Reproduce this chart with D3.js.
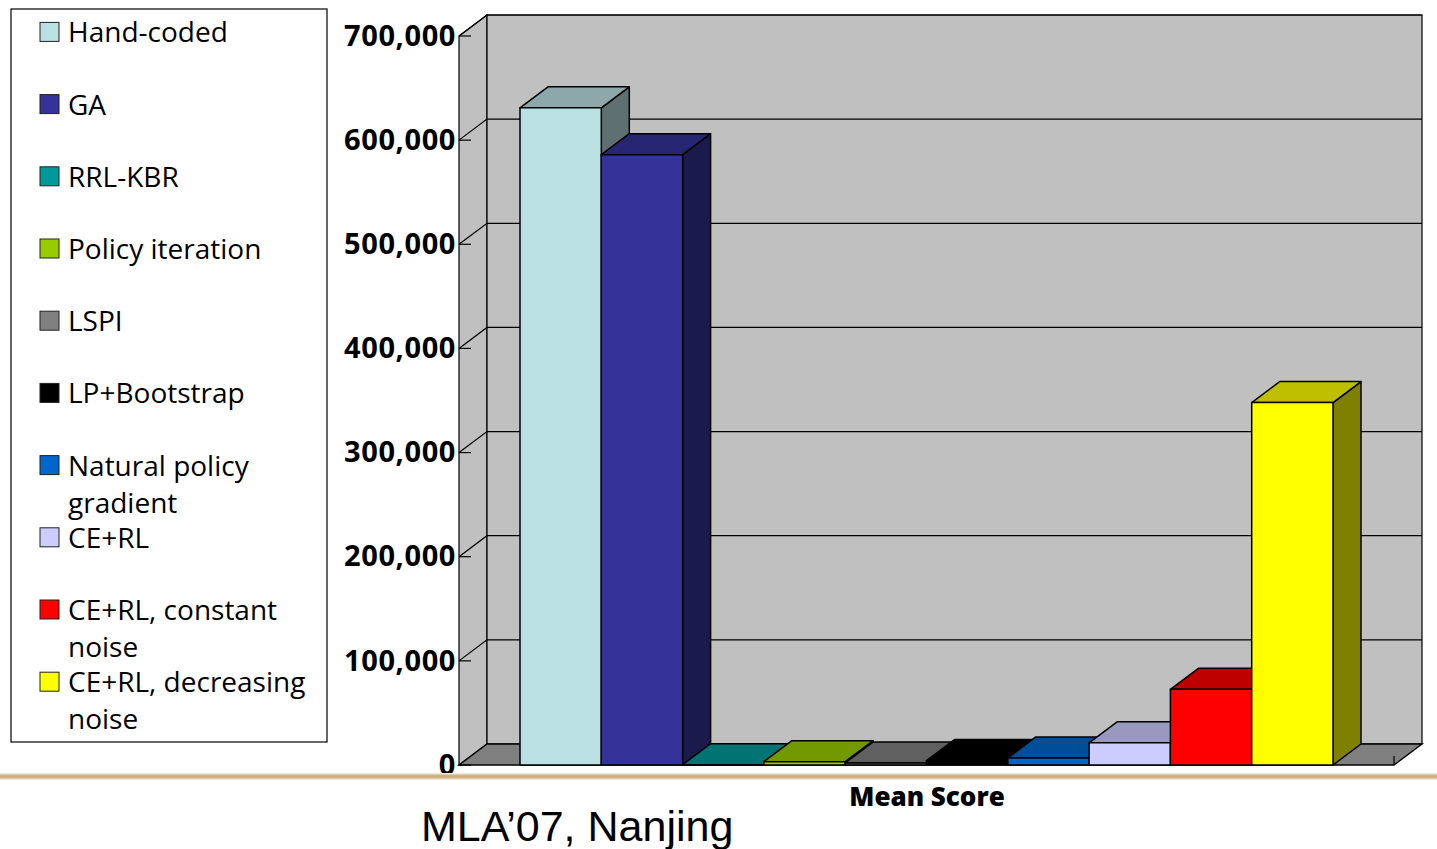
<!DOCTYPE html>
<html>
<head>
<meta charset="utf-8">
<script src="https://cdn.jsdelivr.net/npm/d3@7"></script>
<style>
  html, body { margin: 0; padding: 0; background: #fff; }
  svg { display: block; }
  text { font-family: "Comic Sans MS", "Open Sans", sans-serif; fill: #000; }
</style>
</head>
<body>
<div id="chart"></div>
<script>
const categories = ["Hand-coded", "GA", "RRL-KBR", "Policy iteration", "LSPI", "LP+Bootstrap",
                    "Natural policy gradient", "CE+RL", "CE+RL, constant noise", "CE+RL, decreasing noise"];
const meanScores = [631000, 586000, 300, 3200, 2000, 4300, 6800, 21300, 72700, 348000];
const barColors = ["#bbe0e3", "#333399", "#009999", "#99cc00", "#808080", "#000000",
                   "#0066cc", "#ccccff", "#ff0000", "#ffff00"];
const yTicks = [0, 100000, 200000, 300000, 400000, 500000, 600000, 700000];
const legendLines = [["Hand-coded"], ["GA"], ["RRL-KBR"], ["Policy iteration"], ["LSPI"], ["LP+Bootstrap"],
                     ["Natural policy", "gradient"], ["CE+RL"], ["CE+RL, constant", "noise"], ["CE+RL, decreasing", "noise"]];

const width = 1437, height = 849;
const plot = {left: 459, right: 1394, top: 36, bottom: 765};
const depth = {x: 28, y: 21};

const svg = d3.select("#chart").append("svg")
    .attr("width", width)
    .attr("height", height);

const y = d3.scaleLinear().domain([0, 700000]).range([plot.bottom, plot.top]);
const x = d3.scaleBand().domain(categories).range([520, 1333]);

const poly = pts => pts.map(p => p.join(",")).join(" ");
const shade = (c, k) => {
    const r = d3.rgb(c);
    return d3.rgb(r.r * k, r.g * k, r.b * k).formatHex();
};

// Walls and floor of the 3D box
svg.append("polygon")
    .attr("points", poly([[plot.left, plot.bottom], [plot.left + depth.x, plot.bottom - depth.y],
                          [plot.left + depth.x, plot.top - depth.y], [plot.left, plot.top]]))
    .attr("fill", "#c0c0c0").attr("stroke", "#000").attr("stroke-width", 1.2);
svg.append("rect")
    .attr("x", plot.left + depth.x).attr("y", plot.top - depth.y)
    .attr("width", plot.right - plot.left)
    .attr("height", plot.bottom - plot.top)
    .attr("fill", "#c0c0c0").attr("stroke", "#000").attr("stroke-width", 1.2);
svg.append("polygon")
    .attr("points", poly([[plot.left, plot.bottom], [plot.left + depth.x, plot.bottom - depth.y],
                          [plot.right + depth.x, plot.bottom - depth.y], [plot.right, plot.bottom]]))
    .attr("fill", "#808080").attr("stroke", "#000").attr("stroke-width", 1.4);

// Gridlines run along the left wall and across the back wall
const grid = svg.append("g").attr("fill", "none").attr("stroke", "#000").attr("stroke-width", 1.2);
grid.selectAll("path")
    .data(yTicks.slice(1))
    .enter().append("path")
    .attr("d", d => `M${plot.left},${y(d)}L${plot.left + depth.x},${y(d) - depth.y}H${plot.right + depth.x}`);
grid.selectAll("line")
    .data(yTicks)
    .enter().append("line")
    .attr("x1", plot.left).attr("x2", plot.left + 12)
    .attr("y1", d => y(d)).attr("y2", d => y(d));
grid.append("line")
    .attr("x1", plot.right).attr("x2", plot.right)
    .attr("y1", plot.bottom - 9).attr("y2", plot.bottom);

// Bars, drawn left to right so each one hides the side of the previous
const bar = svg.selectAll(".bar")
    .data(categories.map((name, i) => ({name, value: meanScores[i], color: barColors[i]})))
    .enter().append("g")
    .attr("class", "bar")
    .attr("stroke", "#000")
    .attr("stroke-width", 1.5)
    .attr("stroke-linejoin", "round");

bar.append("polygon")
    .attr("points", d => {
        const x1 = x(d.name) + x.bandwidth(), t = y(d.value);
        return poly([[x1, plot.bottom], [x1 + depth.x, plot.bottom - depth.y],
                     [x1 + depth.x, t - depth.y], [x1, t]]);
    })
    .attr("fill", d => shade(d.color, 0.5));
bar.append("polygon")
    .attr("points", d => {
        const x0 = x(d.name), x1 = x0 + x.bandwidth(), t = y(d.value);
        return poly([[x0, t], [x0 + depth.x, t - depth.y], [x1 + depth.x, t - depth.y], [x1, t]]);
    })
    .attr("fill", d => shade(d.color, 0.75));
bar.append("rect")
    .attr("x", d => x(d.name))
    .attr("y", d => y(d.value))
    .attr("width", x.bandwidth())
    .attr("height", d => plot.bottom - y(d.value))
    .attr("fill", d => d.color);

// Value axis labels
const yAxis = d3.axisLeft(y)
    .tickValues(yTicks)
    .tickFormat(d3.format(","))
    .tickSize(0)
    .tickPadding(3);
svg.append("g")
    .attr("transform", `translate(${plot.left},0)`)
    .call(yAxis)
    .call(g => g.select(".domain").remove())
    .selectAll("text")
    .style("font-family", '"Comic Sans MS", "Open Sans", sans-serif')
    .style("font-size", "29px")
    .style("font-weight", 700)
    .style("letter-spacing", "0.6px")
    .attr("fill", "#000");

svg.append("text")
    .attr("x", 927).attr("y", 806)
    .attr("text-anchor", "middle")
    .style("font-size", "26px")
    .style("font-weight", 800)
    .text("Mean Score");

// Legend
svg.append("rect")
    .attr("x", 11).attr("y", 9).attr("width", 316).attr("height", 733)
    .attr("fill", "#fff").attr("stroke", "#000").attr("stroke-width", 1.2);
const legend = svg.selectAll(".legend")
    .data(legendLines)
    .enter().append("g")
    .attr("class", "legend")
    .attr("transform", (d, i) => `translate(0,${32.4 + i * 72.2})`);
legend.append("rect")
    .attr("x", 40).attr("y", -10).attr("width", 19).attr("height", 19)
    .attr("fill", (d, i) => barColors[i])
    .attr("stroke", "#222").attr("stroke-width", 1);
legend.append("text")
    .attr("x", 68).attr("y", 10)
    .style("font-size", "28px")
    .selectAll("tspan")
    .data(d => d)
    .enter().append("tspan")
    .attr("x", 68)
    .attr("dy", (d, i) => i ? 37 : 0)
    .text(d => d);

// Slide footer
svg.append("rect")
    .attr("x", 0).attr("y", 773).attr("width", width).attr("height", 7)
    .attr("fill", "#f1e7d8");
svg.append("rect")
    .attr("x", 0).attr("y", 774.5).attr("width", width).attr("height", 4)
    .attr("fill", "#d0b185");
svg.append("text")
    .attr("x", 421).attr("y", 841)
    .style("font-family", '"Liberation Sans", Arial, sans-serif')
    .style("font-size", "43px")
    .text("MLA’07, Nanjing");
</script>
</body>
</html>
